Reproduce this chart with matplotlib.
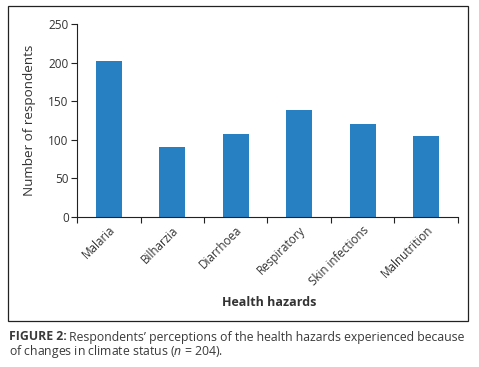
import matplotlib
matplotlib.use("Agg")
import matplotlib.pyplot as plt
from matplotlib.patches import Rectangle
import numpy as np

categories = ["Malaria", "Bilharzia", "Diarrhoea", "Respiratory", "Skin infections", "Malnutrition"]
values = [202, 90, 107, 138, 120, 105]
yticks = [0, 50, 100, 150, 200, 250]

plt.rcParams['font.family'] = ['Open Sans', 'DejaVu Sans']
plt.rcParams['mathtext.fontset'] = 'custom'
plt.rcParams['mathtext.it'] = 'Open Sans:italic'
plt.rcParams['mathtext.rm'] = 'Open Sans'
text_color = '#333333'
cap_color = '#3a3a3a'

fig = plt.figure(figsize=(4.79, 3.67), dpi=100)
ax = fig.add_axes([0.1608, 0.4096, 0.7952, 0.525])

x = np.arange(len(categories))
ax.bar(x, values, width=0.41, color='#2680C2', zorder=2)
ax.set_xlim(-0.5, len(categories) - 0.5)
ax.set_ylim(0, 250)
ax.set_yticks(yticks)
ax.set_yticklabels([str(v) for v in yticks], fontsize=8.5, color=text_color)

ax.set_xticks(x)
ax.set_xticklabels(categories, rotation=45, ha='right', va='top', rotation_mode='anchor',
                   fontsize=8.4, color=text_color)
ax.set_xticks(np.arange(-0.5, len(categories), 1.0), minor=True)
ax.tick_params(axis='x', which='major', length=0, pad=5)
ax.tick_params(axis='x', which='minor', length=4, width=0.8, direction='out', color='#222222')
ax.tick_params(axis='y', length=4, width=0.8, direction='out', color='#222222', pad=2)

for s in ['top', 'right']:
    ax.spines[s].set_visible(False)
for s in ['left', 'bottom']:
    ax.spines[s].set_linewidth(0.8)
    ax.spines[s].set_color('#222222')

ax.set_ylabel("Number of respondents", fontsize=9.7, color=text_color, labelpad=9)
fig.text(0.5626, 1 - 303 / 367, "Health hazards", fontsize=9, fontweight='bold',
         color=text_color, ha='center', va='center')

# Outer frame
fig.patches.append(Rectangle((8 / 479, 1 - 321 / 367), 460 / 479, 315 / 367,
                             transform=fig.transFigure, fill=False, edgecolor='#222222',
                             linewidth=0.9))

# Caption
cap_size = 8.8
t1 = fig.text(9 / 479, 1 - 337 / 367, "FIGURE 2:", fontsize=cap_size, fontweight='bold',
              color=cap_color, ha='left', va='center')
fig.canvas.draw()
bb = t1.get_window_extent(renderer=fig.canvas.get_renderer())
x1 = (bb.x1 + 2) / fig.bbox.width
fig.text(x1, 1 - 337 / 367, "Respondents\u2019 perceptions of the health hazards experienced because",
         fontsize=cap_size, color=cap_color, ha='left', va='center')
fig.text(9 / 479, 1 - 352 / 367, "of changes in climate status ($n$ = 204).", fontsize=cap_size,
         color=cap_color, ha='left', va='center')
fig.savefig("out.png", dpi=100)
